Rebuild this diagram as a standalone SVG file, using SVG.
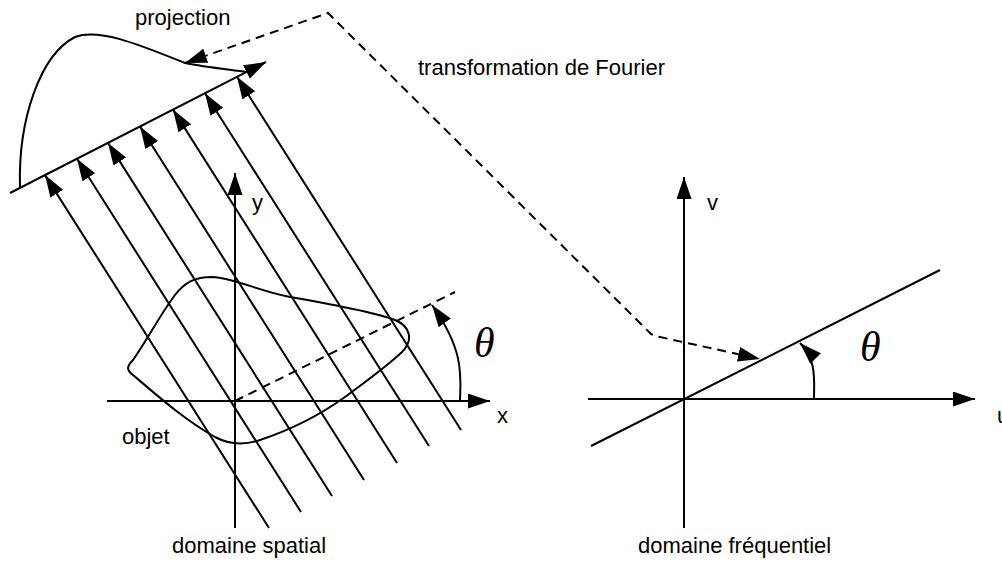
<svg xmlns="http://www.w3.org/2000/svg" width="1002" height="563" viewBox="0 0 1002 563">
<style>
.ln{stroke:#000;stroke-width:2;fill:none}
.ds{stroke:#000;stroke-width:2;fill:none;stroke-dasharray:9,6}
.lb{font-family:"Liberation Sans",Arial,sans-serif;font-size:22px;fill:#000}
.th{font-family:"Liberation Serif","Times New Roman",serif;font-style:italic;font-size:42px;fill:#000}
</style>
<defs>
<marker id="ah" markerUnits="userSpaceOnUse" markerWidth="24" markerHeight="16" refX="22" refY="7.5" orient="auto-start-reverse" viewBox="0 0 24 16">
<path d="M0,0 L22,7.5 L0,15 Z" fill="#000" stroke="none"/>
</marker>
</defs>
<rect width="1002" height="563" fill="#fff"/>
<g id="spatial-axes">
<line class="ln" x1="107" y1="401" x2="490" y2="401" marker-end="url(#ah)"/>
<line class="ln" x1="235" y1="528" x2="235" y2="173" marker-end="url(#ah)"/>
<line class="ds" x1="235" y1="401" x2="455" y2="292"/>
</g>
<g id="objet-shape">
<path class="ln" d="M133,360 C150,335 160,315 175,295 C185,282 195,277 212,277 C235,278 255,290 290,297 C330,304 375,312 395,320 C410,326 414,340 402,352 C385,368 365,382 345,397 C320,415 290,430 260,440 C245,445 230,445 215,437 C185,420 160,398 133,375 C126,370 127,366 133,360 Z"/>
</g>
<g id="rays">
<line class="ln" x1="269" y1="528" x2="45" y2="175.1" marker-end="url(#ah)"/>
<line class="ln" x1="301" y1="512" x2="77" y2="158.7" marker-end="url(#ah)"/>
<line class="ln" x1="332" y1="496" x2="108" y2="142.9" marker-end="url(#ah)"/>
<line class="ln" x1="364" y1="480" x2="140" y2="126.5" marker-end="url(#ah)"/>
<line class="ln" x1="397" y1="463" x2="173" y2="109.6" marker-end="url(#ah)"/>
<line class="ln" x1="429" y1="446" x2="205" y2="93.2" marker-end="url(#ah)"/>
<line class="ln" x1="461" y1="430" x2="237" y2="76.8" marker-end="url(#ah)"/>
</g>
<g id="projection">
<line class="ln" x1="10" y1="193" x2="266" y2="62" marker-end="url(#ah)"/>
<path class="ln" d="M20,187 C18,120 40,55 75,37 C100,28 140,45 185,63 C205,67 225,69 247,72"/>
</g>
<g id="theta-spatial">
<path class="ln" d="M460,400 C461,375 464,350 432,305" marker-end="url(#ah)"/>
<text class="th" x="474" y="357">θ</text>
</g>
<g id="frequency-axes">
<line class="ln" x1="588" y1="399" x2="975" y2="399" marker-end="url(#ah)"/>
<line class="ln" x1="684" y1="528" x2="684" y2="177" marker-end="url(#ah)"/>
<line class="ln" x1="591" y1="446" x2="940" y2="270"/>
</g>
<g id="theta-frequency">
<path class="ln" d="M814,399 C814,380 817,360 800,343" marker-end="url(#ah)"/>
<text class="th" x="860" y="361">θ</text>
</g>
<g id="connectors">
<path class="ds" d="M185,63 L328,13 L650,333 Q653,336 660,337 L760,359" marker-start="url(#ah)" marker-end="url(#ah)"/>
</g>
<g id="labels">
<text class="lb" x="135" y="25">projection</text>
<text class="lb" x="418" y="75">transformation de Fourier</text>
<text class="lb" x="252" y="210">y</text>
<text class="lb" x="497" y="423">x</text>
<text class="lb" x="122" y="444">objet</text>
<text class="lb" x="172" y="553">domaine spatial</text>
<text class="lb" x="707" y="210">v</text>
<text class="lb" x="997" y="423">u</text>
<text class="lb" x="638" y="553">domaine fréquentiel</text>
</g>
</svg>
